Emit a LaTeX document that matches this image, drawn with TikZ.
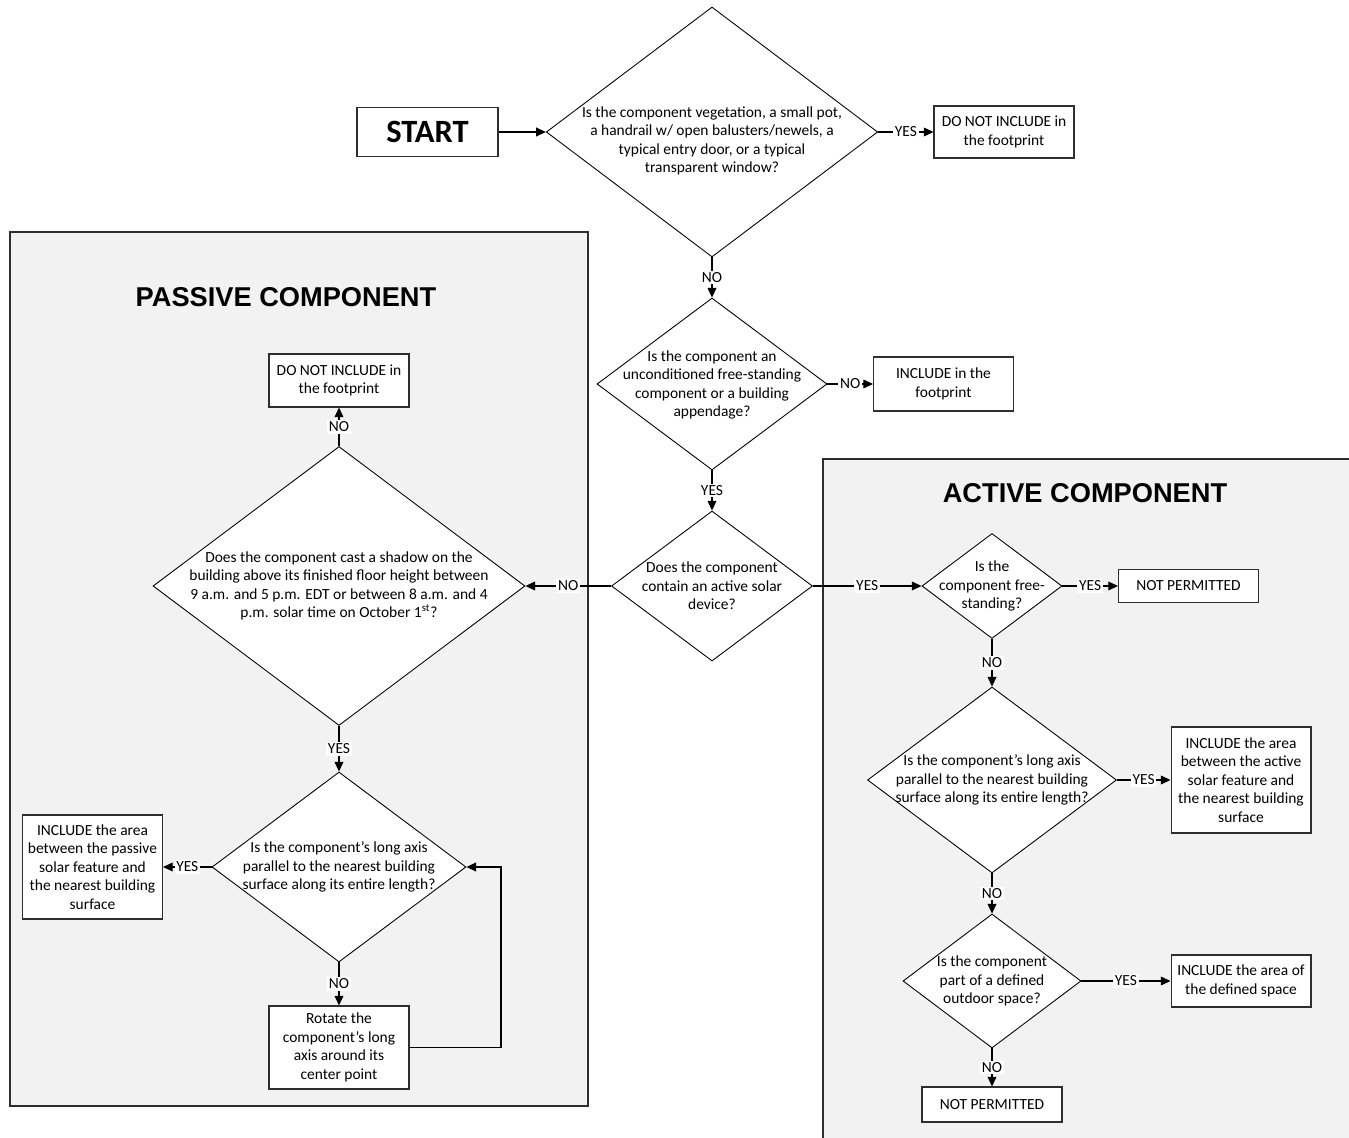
\documentclass[tikz,border=0pt]{standalone}
\usepackage{fontspec}
\setmainfont{Carlito}
\newfontfamily\headfont{Liberation Sans}
\usetikzlibrary{shapes.geometric,arrows.meta}
\definecolor{panelgray}{HTML}{F2F2F2}
\definecolor{edgegray}{HTML}{2E2E2E}
\begin{document}
\begin{tikzpicture}[x=0.02cm, y=-0.02cm, inner sep=0pt,
  font=\fontsize{8.8}{10.5}\selectfont,
  box/.style={draw=edgegray, fill=white, line width=0.6pt, align=center},
  dec/.style={diamond, draw=black, fill=white, line width=0.5pt},
  qtext/.style={align=center},
  lbl/.style={fill=white, inner sep=1pt, midway},
  arr/.style={-{Triangle[length=5.5pt,width=5pt]}, line width=0.6pt},
  panel/.style={draw=edgegray, fill=panelgray, line width=0.6pt},
  title/.style={font=\headfont\bfseries\fontsize{15.5}{18}\selectfont}]
   \useasboundingbox (0,0) rectangle (1349,1138);
   \fill[white] (0,0) rectangle (1349,1138);
   \draw[panel] (10,232) rectangle (588,1106);
   \draw[panel] (823,459) rectangle (1360,1160);
   \node[title] (ptitle) at (286,297) {PASSIVE COMPONENT};
   \node[title] (atitle) at (1085,493) {ACTIVE COMPONENT};
   \node[box, minimum width=2.82cm, minimum height=0.98cm, font=\bfseries\fontsize{18.5}{20}\selectfont] (start) at (427.5,132) {START};
   \node[dec, minimum width=6.63cm, minimum height=5cm] (qexcl) at (712,132) {};
   \node[qtext] (qexcl-t) at (712,141) {Is the component vegetation, a small pot,\\a handrail w/ open balusters/newels, a\\typical entry door, or a typical\\transparent window?};
   \node[box, minimum width=2.8cm, minimum height=1.04cm] (dni) at (1004,132) {DO NOT INCLUDE in\\the footprint};
   \node[dec, minimum width=4.6cm, minimum height=3.44cm] (qfree) at (712,384) {};
   \node[qtext] (qfree-t) at (712,385) {Is the component an\\unconditioned free-standing\\component or a building\\appendage?};
   \node[box, minimum width=2.8cm, minimum height=1.08cm] (incl) at (943.5,384) {INCLUDE in the\\footprint};
   \node[dec, minimum width=4.02cm, minimum height=3cm] (qsolar) at (712,586) {};
   \node[qtext] (qsolar-t) at (712,586) {Does the component\\contain an active solar\\device?};
   \node[dec, minimum width=7.44cm, minimum height=5.58cm] (qshadow) at (339,586) {};
   \node[qtext] (qshadow-t) at (339,586) {Does the component cast a shadow on the\\building above its finished floor height between\\9 a.m. and 5 p.m. EDT or between 8 a.m. and 4\\p.m. solar time on October 1\textsuperscript{st}?};
   \node[box, minimum width=2.8cm, minimum height=1.06cm] (dnip) at (339,380.5) {DO NOT INCLUDE in\\the footprint};
   \node[dec, minimum width=5.08cm, minimum height=3.8cm] (qaxisp) at (339,867) {};
   \node[qtext] (qaxisp-t) at (339,867) {Is the component’s long axis\\parallel to the nearest building\\surface along its entire length?};
   \node[box, minimum width=2.8cm, minimum height=2.08cm] (inclp) at (92.5,867) {INCLUDE the area\\between the passive\\solar feature and\\the nearest building\\surface};
   \node[box, minimum width=2.8cm, minimum height=1.66cm] (rotate) at (339,1047.5) {Rotate the\\component’s long\\axis around its\\center point};
   \coordinate (loop) at (501,867);
   \node[dec, minimum width=2.8cm, minimum height=2.1cm] (qstand) at (992,586) {};
   \node[qtext] (qstand-t) at (992,586) {Is the\\component free-\\standing?};
   \node[box, minimum width=2.8cm, minimum height=0.66cm] (npa) at (1188.5,586) {NOT PERMITTED};
   \node[dec, minimum width=4.98cm, minimum height=3.72cm] (qaxisa) at (992,780) {};
   \node[qtext] (qaxisa-t) at (992,780) {Is the component’s long axis\\parallel to the nearest building\\surface along its entire length?};
   \node[box, minimum width=2.8cm, minimum height=2.12cm] (incla) at (1241,780) {INCLUDE the area\\between the active\\solar feature and\\the nearest building\\surface};
   \node[dec, minimum width=3.56cm, minimum height=2.68cm] (qspace) at (992,981) {};
   \node[qtext] (qspace-t) at (992,981) {Is the component\\part of a defined\\outdoor space?};
   \node[box, minimum width=2.8cm, minimum height=1.04cm] (inclspace) at (1241,981) {INCLUDE the area of\\the defined space};
   \node[box, minimum width=2.8cm, minimum height=0.7cm] (npb) at (992,1104.5) {NOT PERMITTED};
   \draw[arr] (start) -- (qexcl);
   \draw[arr] (qexcl) -- (dni) node[lbl] {YES};
   \draw[arr] (qexcl) -- (qfree) node[lbl] {NO};
   \draw[arr] (qfree) -- (incl) node[lbl] {NO};
   \draw[arr] (qfree) -- (qsolar) node[lbl] {YES};
   \draw[arr] (qsolar) -- (qshadow) node[lbl] {NO};
   \draw[arr] (qsolar) -- (qstand) node[lbl] {YES};
   \draw[arr] (qshadow) -- (dnip) node[lbl] {NO};
   \draw[arr] (qshadow) -- (qaxisp) node[lbl] {YES};
   \draw[arr] (qaxisp) -- (inclp) node[lbl] {YES};
   \draw[arr] (qaxisp) -- (rotate) node[lbl] {NO};
   \draw[arr] (rotate.east) -| (loop) -- (qaxisp.east);
   \draw[arr] (qstand) -- (npa) node[lbl] {YES};
   \draw[arr] (qstand) -- (qaxisa) node[lbl] {NO};
   \draw[arr] (qaxisa) -- (incla) node[lbl] {YES};
   \draw[arr] (qaxisa) -- (qspace) node[lbl] {NO};
   \draw[arr] (qspace) -- (inclspace) node[lbl] {YES};
   \draw[arr] (qspace) -- (npb) node[lbl] {NO};
\end{tikzpicture}
\end{document}
